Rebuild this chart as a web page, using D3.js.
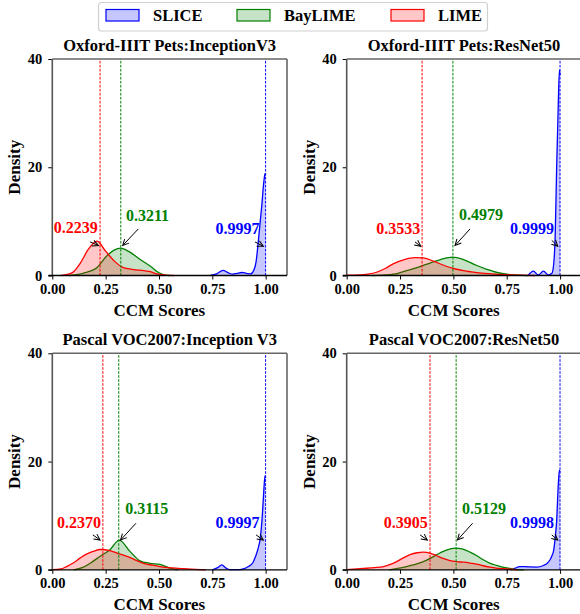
<!DOCTYPE html>
<html><head><meta charset="utf-8">
<script src="https://cdn.jsdelivr.net/npm/d3@7"></script>
<style>body{margin:0;background:#fff}svg{display:block}</style>
</head><body><div id="chart"></div>
<script>
// ---------- data ----------
const titles = ["Oxford-IIIT Pets:InceptionV3","Oxford-IIIT Pets:ResNet50","Pascal VOC2007:Inception V3","Pascal VOC2007:ResNet50"];
const methods = ["SLICE","BayLIME","LIME"];
const xTicks = [0, 0.25, 0.5, 0.75, 1.0];
const yTicks = [0, 20, 40];
// mean CCM per panel, order: SLICE, BayLIME, LIME
const means = [[0.9997,0.3211,0.2239],[0.9999,0.4979,0.3533],[0.9997,0.3115,0.2370],[0.9998,0.5129,0.3905]];
// density curves [score, density] per panel
const sliceDensity = [
  [[0.74,0],[0.77,0.3],[0.80,0.93],[0.825,0.5],[0.845,0.25],[0.865,0.4],[0.888,0.55],[0.91,0.4],[0.93,0.3],[0.945,1.0],[0.955,2.5],[0.966,6.5],[0.981,12.6],[0.992,17.5],[0.997,18.8],[1.0,18.5]],
  [[0.85,0],[0.875,0.8],[0.898,0.1],[0.922,0.8],[0.946,0.1],[0.962,0.4],[0.972,3],[0.977,7],[0.984,20],[0.99,29],[0.997,38],[1.0,37]],
  [[0.75,0],[0.775,0.4],[0.794,0.9],[0.815,0.3],[0.83,0.05],[0.88,0.05],[0.90,0.2],[0.919,0.6],[0.94,1.3],[0.951,2.3],[0.965,4],[0.975,5.9],[0.985,10.5],[0.991,14.4],[0.997,17.4],[1.0,17]],
  [[0.77,0],[0.79,0.3],[0.81,0.6],[0.85,0.55],[0.89,0.5],[0.922,0.8],[0.94,1.2],[0.953,1.85],[0.962,2.6],[0.969,3.4],[0.977,5.8],[0.984,9],[0.992,16],[0.997,18.4],[1.0,18]]
];
const baylimeDensity = [
  [[0.08,0],[0.12,0.2],[0.15,0.5],[0.21,1.5],[0.255,3.6],[0.29,4.7],[0.32,5.05],[0.36,4.4],[0.41,3.0],[0.46,1.7],[0.50,0.5],[0.53,0.05],[0.55,0]],
  [[0.12,0],[0.18,0.1],[0.24,0.4],[0.28,0.9],[0.34,1.6],[0.39,2.3],[0.44,2.95],[0.496,3.4],[0.55,2.9],[0.61,1.85],[0.66,1.1],[0.70,0.6],[0.75,0.25],[0.80,0.08],[0.85,0]],
  [[0.10,0],[0.14,0.4],[0.177,1.2],[0.224,2.5],[0.27,3.7],[0.314,5.5],[0.364,3.4],[0.411,1.66],[0.458,1.2],[0.505,1.0],[0.552,0.3],[0.59,0]],
  [[0.2,0],[0.265,0.43],[0.31,0.9],[0.359,1.5],[0.40,2.3],[0.437,3.1],[0.47,3.7],[0.508,4.0],[0.545,3.8],[0.578,3.26],[0.61,2.6],[0.64,1.85],[0.67,1.25],[0.703,0.8],[0.735,0.45],[0.766,0.25],[0.80,0.05],[0.83,0]]
];
const limeDensity = [
  [[0.04,0],[0.07,0.2],[0.10,0.7],[0.13,2.2],[0.17,4.9],[0.21,6.35],[0.25,4.5],[0.29,2.7],[0.33,1.5],[0.38,1.1],[0.43,0.9],[0.46,0.7],[0.49,0.3],[0.53,0.08],[0.57,0]],
  [[0.0,0.05],[0.06,0.1],[0.10,0.25],[0.14,0.6],[0.18,1.3],[0.22,2.2],[0.27,2.95],[0.32,3.3],[0.36,3.25],[0.41,2.6],[0.46,1.8],[0.51,1.2],[0.56,0.8],[0.62,0.5],[0.68,0.3],[0.75,0.15],[0.82,0.06],[0.88,0]],
  [[0.0,0.02],[0.04,0.15],[0.067,0.6],[0.10,1.3],[0.13,2.15],[0.16,2.9],[0.192,3.4],[0.224,3.75],[0.27,3.55],[0.31,3.0],[0.35,2.5],[0.39,1.8],[0.428,1.2],[0.47,0.85],[0.505,0.6],[0.56,0.35],[0.615,0.2],[0.67,0.08],[0.72,0]],
  [[0.0,0.05],[0.078,0.25],[0.13,0.4],[0.172,0.6],[0.205,1.0],[0.234,1.5],[0.265,2.2],[0.297,2.8],[0.33,3.15],[0.359,3.26],[0.39,3.1],[0.422,2.6],[0.452,2.1],[0.484,1.7],[0.515,1.5],[0.547,1.4],[0.578,1.25],[0.609,1.05],[0.64,0.75],[0.672,0.5],[0.70,0.32],[0.734,0.2],[0.77,0.1],[0.80,0]]
];

// ---------- layout / style ----------
const colors = ["#0000ff","#008000","#ff0000"];
const FONT = "Liberation Serif";
const W = 580, H = 614;
const cols = [52.3, 346.7], rows = [59, 353.3];
const pw = 234.7, ph = 216.5;
// annotation placement in data coords: [textX, textY, tailX, tailY, headX, headY], per method
const annot = [
  [[0.868,7.7,0.95,6.2,0.989,5.4],[0.446,10.0,0.403,8.6,0.33,5.55],[0.11,7.8,0.177,6.2,0.216,5.55]],
  [[0.869,7.6,0.961,6.5,0.989,5.4],[0.629,10.2,0.578,8.6,0.508,5.55],[0.242,7.6,0.32,6.2,0.347,5.4]],
  [[0.868,7.7,0.955,6.45,0.989,5.5],[0.443,10.3,0.392,8.6,0.32,5.5],[0.125,7.7,0.19,6.45,0.224,5.5]],
  [[0.869,7.7,0.961,6.45,0.989,5.5],[0.644,10.3,0.59,8.6,0.519,5.5],[0.277,7.7,0.344,6.45,0.378,5.5]]
];

const svg = d3.select("#chart").append("svg").attr("width",W).attr("height",H);
svg.append("rect").attr("width",W).attr("height",H).attr("fill","#fff");
svg.append("defs").append("marker").attr("id","arr").attr("markerUnits","userSpaceOnUse")
  .attr("markerWidth",12).attr("markerHeight",12).attr("refX",0).attr("refY",0)
  .attr("viewBox","-8 -6 10 12").attr("orient","auto")
  .append("path").attr("d","M-6,-3 L0,0 L-6,3").attr("fill","none").attr("stroke","#000").attr("stroke-width",1);

const fmt = d3.format(".4f");
const allDens = [sliceDensity, baylimeDensity, limeDensity];
function txt(sel) { return sel.attr("font-family", FONT).attr("font-weight", "bold"); }

titles.forEach((title, p) => {
  const ox = cols[p % 2], oy = rows[Math.floor(p / 2)];
  const g = svg.append("g").attr("transform", `translate(${ox},${oy})`);
  const x = d3.scaleLinear().domain([0, 1.1]).range([0, pw]);
  const y = d3.scaleLinear().domain([0, 40]).range([ph, 0]);

  const area = d3.area().x(d => x(d[0])).y0(y(0)).y1(d => y(d[1])).curve(d3.curveMonotoneX);
  const line = d3.line().x(d => x(d[0])).y(d => y(d[1])).curve(d3.curveMonotoneX);

  methods.forEach((m, k) => {
    const data = allDens[k][p];
    g.append("path").datum(data).attr("d", area).attr("fill", colors[k]).attr("fill-opacity", 0.22);
    g.append("path").datum(data).attr("d", line).attr("fill","none").attr("stroke", colors[k]).attr("stroke-width", 1.3);
  });
  methods.forEach((m, k) => {
    g.append("line").attr("x1", x(means[p][k])).attr("x2", x(means[p][k]))
      .attr("y1", y(0)).attr("y2", y(40)).attr("stroke", colors[k]).attr("stroke-width", 1)
      .attr("stroke-dasharray", "2.6,1.4");
  });

  // axes
  const xa = g.append("g").attr("transform", `translate(0,${ph})`)
    .call(d3.axisBottom(x).tickValues(xTicks).tickFormat(d3.format(".2f")).tickSize(4).tickPadding(4));
  xa.select(".domain").remove();
  txt(xa.selectAll("text")).attr("font-size", 14.5).attr("fill","#000");
  xa.selectAll("line").attr("stroke","#000");
  const ya = g.append("g").call(d3.axisLeft(y).tickValues(yTicks).tickSize(4).tickPadding(6));
  ya.select(".domain").remove();
  txt(ya.selectAll("text")).attr("font-size", 14.5).attr("fill","#000");
  ya.selectAll("line").attr("stroke","#000");

  // spines
  g.append("line").attr("x1",0).attr("x2",pw).attr("y1",0).attr("y2",0).attr("stroke","#666").attr("stroke-width",1.6);
  g.append("line").attr("x1",pw).attr("x2",pw).attr("y1",0).attr("y2",ph).attr("stroke","#666").attr("stroke-width",1.6);
  g.append("line").attr("x1",0).attr("x2",0).attr("y1",0).attr("y2",ph).attr("stroke","#555").attr("stroke-width",1.6);
  g.append("line").attr("x1",-4).attr("x2",pw).attr("y1",ph).attr("y2",ph).attr("stroke","#000").attr("stroke-width",1.3);

  // annotations
  methods.forEach((m, k) => {
    const a = annot[p][k];
    g.append("line").attr("x1", x(a[2])).attr("y1", y(a[3])).attr("x2", x(a[4])).attr("y2", y(a[5]))
      .attr("stroke","#000").attr("stroke-width",1).attr("marker-end","url(#arr)");
    txt(g.append("text")).attr("x", x(a[0])).attr("y", y(a[1])).attr("text-anchor","middle")
      .attr("font-size", 16).attr("fill", colors[k]).text(fmt(means[p][k]));
  });

  txt(g.append("text")).attr("x", pw / 2).attr("y", -8).attr("text-anchor","middle").attr("font-size",16.5).text(title);
  txt(g.append("text")).attr("x", 107).attr("y", ph + 40).attr("text-anchor","middle").attr("font-size",17).text("CCM Scores");
  txt(g.append("text")).attr("transform", `translate(-32,${ph/2}) rotate(-90)`).attr("text-anchor","middle").attr("font-size",17).text("Density");
});

// legend
const lg = svg.append("g");
lg.append("rect").attr("x",98.5).attr("y",2.5).attr("width",389).attr("height",28.5).attr("rx",3)
  .attr("fill","#fff").attr("stroke","#d0d0d0").attr("stroke-width",1.2);
const lx = [106, 237, 391];
methods.forEach((m, k) => {
  lg.append("rect").attr("x", lx[k]).attr("y", 9.5).attr("width", 33).attr("height", 11.5)
    .attr("fill", colors[k]).attr("fill-opacity",0.22).attr("stroke", colors[k]).attr("stroke-width",1.2);
  txt(lg.append("text")).attr("x", lx[k] + 47).attr("y", 21).attr("font-size",16.5).text(m);
});
</script></body></html>
